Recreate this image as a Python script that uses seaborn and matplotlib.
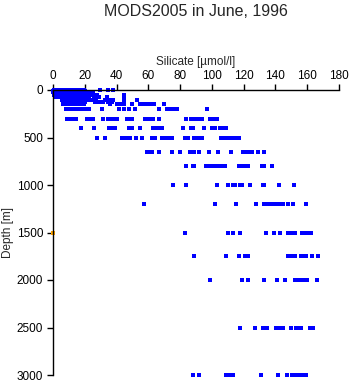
import matplotlib
matplotlib.use("Agg")
import matplotlib.pyplot as plt
import pandas as pd
import seaborn as sns

# standard depth levels [m]
depths = [0, 10, 20, 30, 50, 75, 100, 125, 150, 200, 300, 400, 500, 650,
          800, 1000, 1200, 1500, 1750, 2000, 2500, 3000]

# silicate values [umol/l]
si_0 = [0.4, 1.1, 1.9, 2.7, 3.5, 4.3, 5.2, 6.0, 6.9, 7.7, 8.6, 9.4, 10.3, 11.1, 12.0, 12.8,
        13.7, 14.5, 15.4, 16.2, 17.1, 18.0, 19.2, 29.5, 34.5, 37.7]
si_10 = [0.2, 1.0, 1.8, 2.6, 3.4, 4.2, 5.1, 5.9, 6.8, 7.6, 8.5, 9.3, 10.2, 11.0, 11.9, 12.7,
         13.6, 14.4, 15.3, 16.1, 17.0, 17.8, 18.9, 20.1]
si_20 = [0.3, 1.2, 2.0, 2.9, 3.7, 4.6, 5.4, 6.3, 7.1, 8.0, 8.8, 9.7, 10.5, 11.4, 12.2, 13.1,
         13.9, 14.8, 15.6, 16.5, 17.3, 18.2, 19.6, 21.0, 22.4]
si_30 = [0.5, 1.4, 2.2, 3.1, 3.9, 4.8, 5.6, 6.5, 7.3, 8.2, 9.0, 9.9, 10.7, 11.6, 12.4, 13.3,
         14.1, 15.0, 15.8, 16.7, 17.5, 18.4, 19.8, 21.5, 23.0, 25.0]
si_50 = [0.6, 1.5, 2.4, 3.3, 4.1, 5.0, 5.8, 6.7, 7.5, 8.4, 9.2, 10.1, 10.9, 11.8, 12.6, 13.5,
         14.3, 15.2, 16.0, 16.9, 17.7, 18.6, 20.0, 21.8, 23.3, 26.0, 28.0, 45.0]
si_75 = [1.0, 2.2, 3.4, 4.6, 5.7, 6.5, 7.4, 8.2, 9.1, 9.9, 10.8, 11.6, 12.5, 13.3, 14.2, 15.0,
         15.9, 16.7, 17.6, 18.5, 19.8, 21.2, 22.6, 25.5, 27.2, 29.0, 33.8, 44.8]
si_100 = [5.8, 6.7, 7.5, 8.4, 9.2, 10.1, 10.9, 11.8, 12.6, 13.5, 14.3, 15.2, 16.0, 16.9, 17.8,
          19.0, 20.5, 22.0, 24.8, 27.0, 33.0, 34.6, 36.5, 38.0, 45.0, 53.0]
si_125 = [6.0, 6.9, 7.7, 8.6, 9.4, 10.3, 11.1, 12.0, 12.8, 13.7, 14.5, 15.4, 16.3, 17.4, 18.8,
          20.0, 26.5, 29.0, 31.5, 34.5, 36.0, 37.0]
si_150 = [6.2, 7.1, 7.9, 8.8, 9.6, 10.5, 11.3, 12.2, 13.0, 13.9, 14.8, 16.0, 17.5, 19.5, 36.0,
          40.5, 42.0, 43.5, 45.0, 50.0, 55.0, 57.0, 59.0, 61.0, 63.5, 70.0]
si_200 = [7.9, 10.5, 11.5, 12.5, 13.5, 14.5, 15.5, 17.0, 18.5, 19.5, 20.5, 22.5, 30.7, 41.5,
          44.6, 48.0, 51.4, 67.0, 71.5, 72.5, 73.5, 74.5, 75.5, 76.5, 78.0, 97.0]
si_300 = [8.7, 9.7, 10.7, 11.7, 14.3, 21.7, 22.7, 24.0, 25.0, 31.3, 34.5, 37.0, 38.0, 39.0,
          40.0, 46.4, 47.5, 49.6, 57.6, 58.8, 60.0, 61.5, 62.7, 67.0, 84.0, 87.0, 88.0, 89.5,
          91.0, 92.5, 94.0, 99.0, 100.5, 102.0, 103.0]
si_400 = [17.5, 25.6, 35.0, 36.2, 39.0, 48.0, 49.0, 50.0, 54.6, 62.7, 63.8, 65.0, 66.0, 68.4,
          81.6, 87.0, 87.8, 94.8, 99.8, 100.8, 101.7, 105.0, 106.5, 108.0, 109.0]
si_500 = [28.0, 32.6, 43.4, 44.6, 45.8, 47.0, 48.4, 52.0, 56.0, 62.0, 63.0, 64.0, 68.6, 69.8,
          71.0, 72.2, 73.4, 74.8, 83.0, 85.0, 88.5, 90.0, 91.5, 93.6, 105.6, 107.0, 108.5,
          110.0, 111.5, 113.0, 114.5, 115.6, 117.0]
si_650 = [59.0, 60.5, 62.0, 67.0, 75.0, 80.0, 86.0, 87.0, 89.0, 92.0, 98.0, 104.0, 112.0,
          119.6, 121.0, 122.5, 124.0, 125.0, 129.0, 133.0]
si_800 = [84.0, 88.0, 89.0, 96.5, 98.0, 99.5, 101.0, 103.0, 104.5, 106.0, 108.0, 117.0, 119.6,
          121.0, 123.0, 131.5, 132.5, 138.0]
si_1000 = [75.4, 83.5, 103.0, 110.0, 113.0, 114.5, 117.5, 119.0, 124.0, 132.0, 133.0, 142.0,
           151.5]
si_1200 = [57.0, 102.0, 115.0, 128.0, 133.0, 134.5, 135.5, 138.0, 139.5, 141.0, 142.5, 144.0,
           145.0, 148.0, 151.0, 159.0]
si_1500 = [83.0, 110.0, 113.0, 118.0, 134.0, 139.0, 142.6, 147.7, 149.0, 150.5, 152.0, 157.0,
           159.5, 161.0, 162.6]
si_1750 = [89.0, 109.0, 117.0, 120.7, 122.5, 147.7, 149.5, 151.0, 152.0, 156.0, 157.5, 159.5,
           163.0, 166.6]
si_2000 = [99.0, 119.0, 122.6, 133.0, 141.0, 145.8, 152.0, 154.0, 156.0, 157.5, 159.0, 160.0,
           166.0]
si_2500 = [118.0, 127.0, 132.0, 135.0, 140.6, 142.0, 144.6, 150.0, 153.0, 154.5, 156.3, 161.5,
           163.5]
si_3000 = [88.0, 91.7, 109.0, 110.5, 112.0, 113.0, 131.0, 141.5, 147.0, 150.6, 152.0, 153.0,
           155.0, 156.5, 158.0, 159.5]

# single flagged sample near the axis
flag_si = [0.0]
flag_depth = [1500]

x_ticks = [0, 20, 40, 60, 80, 100, 120, 140, 160, 180]
y_ticks = [0, 500, 1000, 1500, 2000, 2500, 3000]


def build_frame():
    profiles = [si_0, si_10, si_20, si_30, si_50, si_75, si_100, si_125, si_150, si_200,
                si_300, si_400, si_500, si_650, si_800, si_1000, si_1200, si_1500, si_1750,
                si_2000, si_2500, si_3000]
    parts = [pd.DataFrame({"silicate": v, "depth": d}) for d, v in zip(depths, profiles)]
    return pd.concat(parts, ignore_index=True)


def plot_profile(df, save_path):
    sns.set_style("ticks")
    plt.rcParams["font.family"] = ["Liberation Sans", "DejaVu Sans"]

    fig = plt.figure(figsize=(3.51, 3.84), dpi=100)
    ax = fig.add_axes([53 / 351, 1 - 375 / 384, 286 / 351, 285 / 384])

    sns.scatterplot(data=df, x="silicate", y="depth", color="blue", marker="s", s=5,
                    linewidth=0, ax=ax, clip_on=False, legend=False)
    sns.scatterplot(x=flag_si, y=flag_depth, color="orange", marker="s", s=5,
                    linewidth=0, ax=ax, clip_on=False, legend=False)

    ax.set_xlim(0, 180)
    ax.set_ylim(3000, 0)
    ax.set_xticks(x_ticks)
    ax.set_yticks(y_ticks)

    ax.xaxis.tick_top()
    ax.xaxis.set_label_position("top")
    for side in ["right", "bottom"]:
        ax.spines[side].set_visible(False)
    for side in ["top", "left"]:
        ax.spines[side].set_linewidth(1.0)
        ax.spines[side].set_color("black")

    ax.tick_params(axis="both", direction="out", length=4, width=1.0, colors="black",
                   labelsize=8.5)
    ax.tick_params(axis="x", pad=2)
    ax.tick_params(axis="y", pad=3)
    ax.set_xlabel("Silicate [µmol/l]", fontsize=8.5, labelpad=3)
    ax.set_ylabel("Depth [m]", fontsize=8.5, labelpad=2)

    fig.text(196 / 351, 1 - 12 / 384, "MODS2005 in June, 1996", ha="center", va="center",
             fontsize=11.5)

    fig.savefig(save_path, dpi=100)
    plt.close(fig)


if __name__ == "__main__":
    plot_profile(build_frame(), "out.png")
